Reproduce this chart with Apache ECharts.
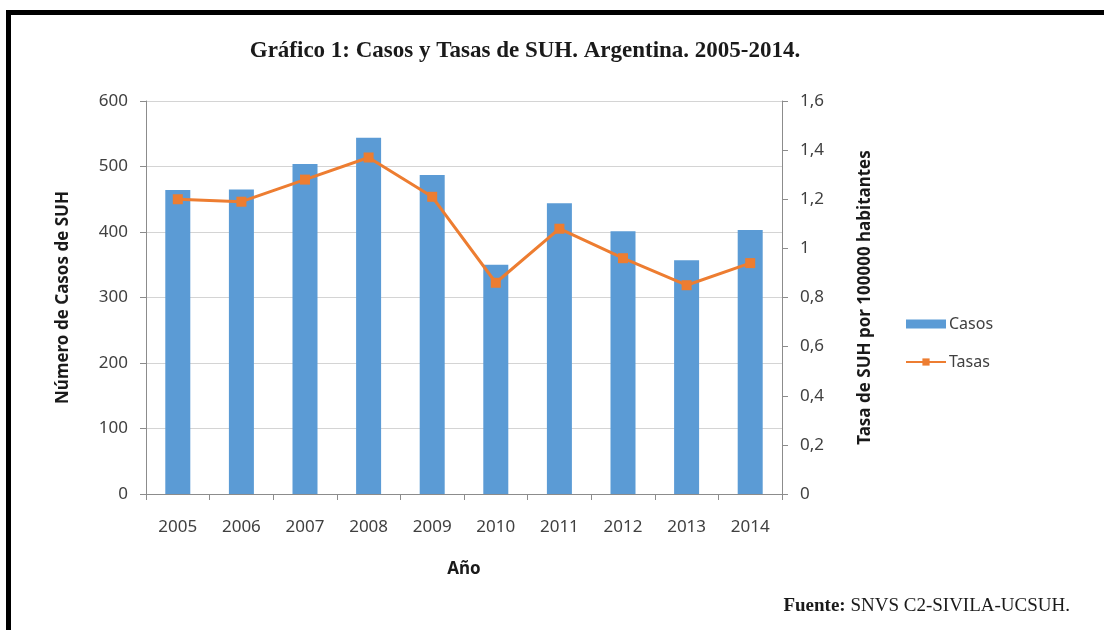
<!DOCTYPE html>
<html>
<head>
<meta charset="utf-8">
<script src="https://cdn.jsdelivr.net/npm/echarts@6/dist/echarts.min.js"></script>
<style>
  html, body { margin: 0; padding: 0; background: #fff; }
  #frame {
    position: absolute; left: 6px; top: 10px; width: 1098px; height: 620px;
    border-top: 5px solid #000; border-left: 5px solid #000; box-sizing: border-box;
  }
  #chart { position: absolute; left: 0; top: 0; width: 1104px; height: 630px; }
</style>
</head>
<body>
<div id="frame"></div>
<div id="chart"></div>
<script>
// Casos y tasas de SUH en Argentina, 2005-2014
const years = ['2005', '2006', '2007', '2008', '2009', '2010', '2011', '2012', '2013', '2014'];
const casos = [464, 465, 504, 544, 487, 350, 444, 401, 357, 403];
const tasas = [1.20, 1.19, 1.28, 1.37, 1.21, 0.86, 1.08, 0.96, 0.85, 0.94];

const labelFont = { fontFamily: 'Noto Sans', fontSize: 17, color: '#404040' };
const nameFont = { fontFamily: 'Noto Sans', fontSize: 17, fontWeight: 'bold', color: '#1a1a1a' };
const axisGray = '#8c8c8c';

const chart = echarts.init(document.getElementById('chart'), null, { renderer: 'canvas' });
chart.setOption({
  animation: false,
  backgroundColor: 'transparent',
  title: {
    text: 'Gráfico 1: Casos y Tasas de SUH. Argentina. 2005-2014.',
    left: 520, top: 35, textAlign: 'center',
    textStyle: { fontFamily: 'Liberation Serif', fontSize: 23, fontWeight: 'bold', color: '#1a1a1a' }
  },
  graphic: [{
    type: 'text', right: 34, top: 597,
    style: {
      text: '{b|Fuente:} SNVS C2-SIVILA-UCSUH.',
      rich: { b: { fontWeight: 'bold', fontFamily: 'Liberation Serif', fontSize: 19, fill: '#1a1a1a' } },
      fontFamily: 'Liberation Serif', fontSize: 19, fill: '#1a1a1a'
    }
  }],
  legend: {
    orient: 'vertical', left: 900, top: 311, itemGap: 22,
    itemWidth: 40, itemHeight: 9,
    textStyle: { fontFamily: 'Noto Sans', fontSize: 16, color: '#404040', padding: [0, 0, 0, -2] },
    data: [{ name: 'Casos', icon: 'rect' }, { name: 'Tasas' }]
  },
  grid: { left: 146, right: 322, top: 101, bottom: 136 },
  xAxis: {
    type: 'category', data: years,
    name: 'Año', nameLocation: 'middle', nameGap: 67, nameTextStyle: nameFont,
    axisLine: { lineStyle: { color: axisGray } },
    axisTick: { show: true, length: 6, lineStyle: { color: axisGray } },
    axisLabel: Object.assign({ margin: 25 }, labelFont)
  },
  yAxis: [{
    type: 'value', min: 0, max: 600, interval: 100,
    name: 'Número de Casos de SUH', nameLocation: 'middle', nameGap: 74, nameRotate: 90,
    nameTextStyle: nameFont,
    axisLine: { show: true, lineStyle: { color: axisGray } },
    axisTick: { show: true, length: 6, lineStyle: { color: axisGray } },
    axisLabel: Object.assign({ margin: 18 }, labelFont),
    splitLine: { lineStyle: { color: '#d4d4d4', width: 1 } }
  }, {
    type: 'value', min: 0, max: 1.6, interval: 0.2,
    name: 'Tasa de SUH por 100000 habitantes', nameLocation: 'middle', nameGap: 75, nameRotate: 90,
    nameTextStyle: nameFont,
    axisLine: { show: true, lineStyle: { color: axisGray } },
    axisTick: { show: true, length: 6, lineStyle: { color: axisGray } },
    axisLabel: Object.assign({
      margin: 18,
      formatter: v => String(Math.round(v * 10) / 10).replace('.', ',')
    }, labelFont),
    splitLine: { show: false }
  }],
  series: [{
    name: 'Casos', type: 'bar', data: casos, yAxisIndex: 0,
    barWidth: 25, itemStyle: { color: '#5B9BD5' }
  }, {
    name: 'Tasas', type: 'line', data: tasas, yAxisIndex: 1,
    symbol: 'rect', symbolSize: 10,
    lineStyle: { color: '#ED7D31', width: 3 },
    itemStyle: { color: '#ED7D31' }
  }]
});
</script>
</body>
</html>
